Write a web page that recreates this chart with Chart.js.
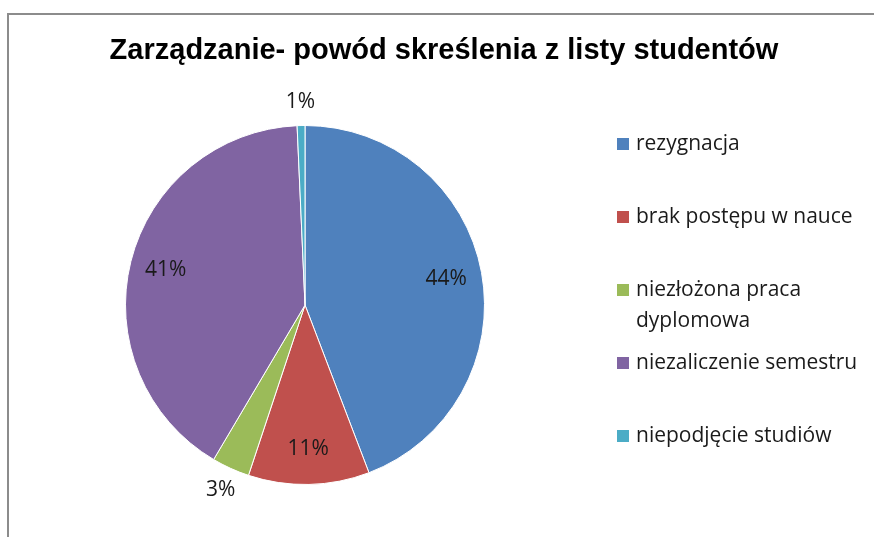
<!DOCTYPE html>
<html>
<head>
<meta charset="utf-8">
<script src="https://cdn.jsdelivr.net/npm/chart.js@4/dist/chart.umd.min.js"></script>
<style>
  html, body { margin: 0; padding: 0; background: #fff; }
  #wrap { position: relative; width: 874px; height: 537px; overflow: hidden; }
  #frame { position: absolute; left: 7px; top: 13px; width: 900px; height: 600px; border: 2px solid #8c8c8c; }
  #myChart { position: absolute; left: 0; top: 0; }
</style>
</head>
<body>
<div id="wrap">
  <div id="frame"></div>
  <canvas id="myChart" width="874" height="537"></canvas>
</div>
<script>
const TITLE = 'Zarządzanie- powód skreślenia z listy studentów';
const LABELS = ['rezygnacja', 'brak postępu w nauce', 'niezłożona praca dyplomowa', 'niezaliczenie semestru', 'niepodjęcie studiów'];
const VALUES = [44.2, 10.9, 3.4, 40.8, 0.7];
const COLORS = ['#4f81bd', '#c0504d', '#9bbb59', '#8064a2', '#4bacc6'];

const TEXT_FONT = '21px "Open Sans", Lato, sans-serif';

// title, legend and percent labels drawn by hand
const decorations = {
  id: 'decorations',
  afterDraw(chart) {
    let c = chart.ctx;
    c.save();

    //title
    c.fillStyle = '#000';
    c.font = 'bold 29px "Liberation Sans", Arial, sans-serif';
    c.textAlign = 'center';
    c.textBaseline = 'alphabetic';
    c.fillText(TITLE, 444, 59);

    //percent labels
    let meta = chart.getDatasetMeta(0);
    let total = VALUES.reduce((a, b) => a + b, 0);
    c.font = TEXT_FONT;
    c.fillStyle = '#1a1a1a';
    c.textBaseline = 'middle';
    meta.data.forEach((arc, i) => {
      let pct = VALUES[i] / total * 100;
      let mid = (arc.startAngle + arc.endAngle) / 2;
      let r = pct < 5 ? arc.outerRadius + 24 : arc.outerRadius * 0.8;
      let x = arc.x + Math.cos(mid) * r;
      let y = arc.y + Math.sin(mid) * r;
      c.fillText(Math.round(pct) + '%', x, y);
    });

    //legend
    c.textAlign = 'left';
    let top = 144;
    LABELS.forEach((label, i) => {
      let y = top + i * 73;
      c.fillStyle = COLORS[i];
      c.fillRect(617, y - 6, 12, 12);
      c.fillStyle = '#1a1a1a';
      let words = label.split(' ');
      let line = '';
      words.forEach(w => {
        let test = line ? line + ' ' + w : w;
        if (c.measureText(test).width > 230 && line) {
          c.fillText(line, 636, y);
          line = w;
          y += 31;
        } else {
          line = test;
        }
      });
      c.fillText(line, 636, y);
    });

    c.restore();
  }
};

var ctx = document.getElementById('myChart');
var chart = new Chart(ctx, {
  type: 'pie',
  data: {
    labels: LABELS,
    datasets: [{
      data: VALUES,
      backgroundColor: COLORS,
      borderColor: '#ffffff',
      borderWidth: 1
    }]
  },
  options: {
    responsive: false,
    animation: false,
    layout: { padding: { left: 125, right: 389, top: 125, bottom: 52 } },
    plugins: {
      legend: { display: false },
      title: { display: false },
      tooltip: { enabled: false }
    }
  },
  plugins: [decorations]
});
</script>
</body>
</html>
